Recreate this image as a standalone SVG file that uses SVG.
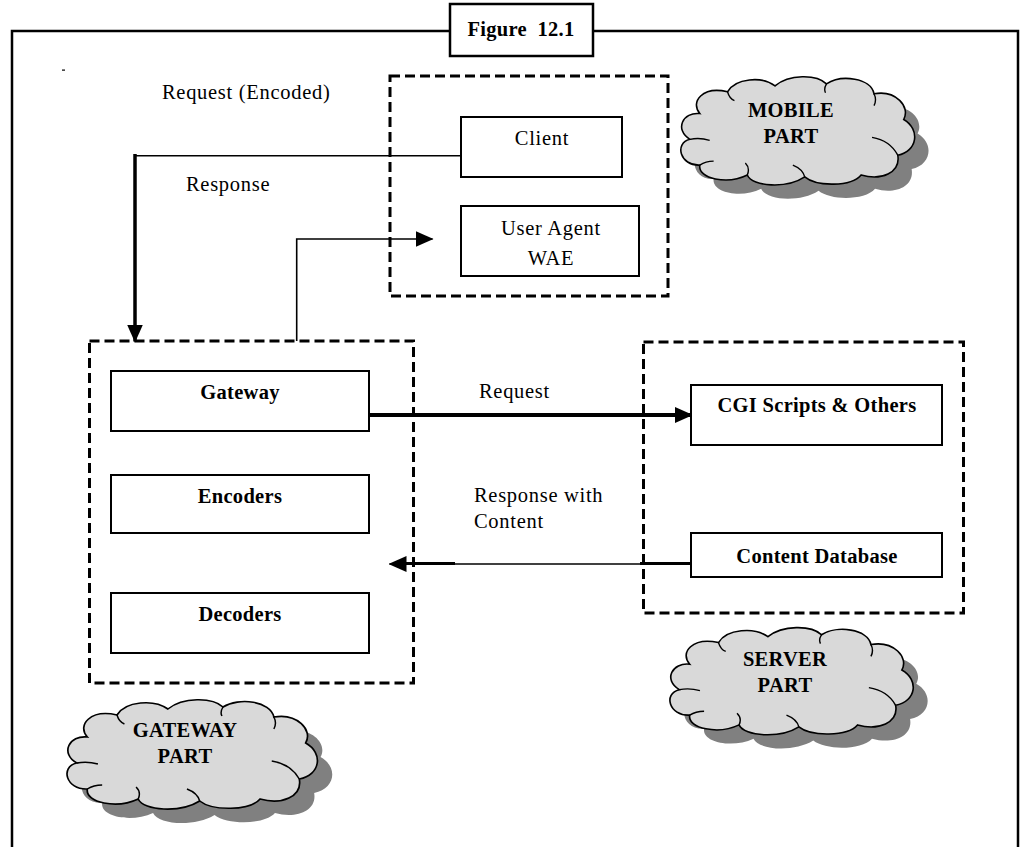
<svg xmlns="http://www.w3.org/2000/svg" width="1032" height="847" viewBox="0 0 1032 847">
<style>
  text { font-family: "Liberation Serif", "Times New Roman", serif; font-size: 20.5px; fill: #000; }
  .reg { letter-spacing: 0.7px; }
  .b { font-weight: bold; letter-spacing: 0.3px; }
  .mid { text-anchor: middle; }
  .box { fill: #fff; stroke: #000; stroke-width: 2; }
  .dash { fill: none; stroke: #000; stroke-width: 3; stroke-dasharray: 10 5; }
  .frame { fill: none; stroke: #000; stroke-width: 2.5; }
  .thin { fill: none; stroke: #000; stroke-width: 1.6; }
  .cloud { fill: #d9d9d9; stroke: #000; stroke-width: 1.6; }
  .shadow { fill: #808080; stroke: none; }
  .curl { fill: none; stroke: #000; stroke-width: 1.4; }
</style>
<defs>
  <marker id="arrow" markerUnits="userSpaceOnUse" markerWidth="18" markerHeight="16" refX="17" refY="8" orient="auto">
    <path d="M0,0 L18,8 L0,16 Z" fill="#000"/>
  </marker>
  <path id="cloudShape" d="M22,42 C12,30 25,14 50,20 C58,6 85,4 98,14 C112,2 140,2 150,12 C165,2 195,6 198,22 C220,18 235,35 228,48 C245,58 242,80 222,84 C225,102 205,110 185,104 C175,116 140,116 128,106 C110,118 75,116 70,104 C50,114 20,108 22,94 C2,95 -4,72 12,68 C-4,58 5,40 22,42 Z"/>
  <g id="cloud">
    <use href="#cloudShape" class="shadow" transform="translate(14,14)"/>
    <use href="#cloudShape" class="cloud"/>
    <path class="curl" d="M12,68 q10,-2 20,1 M222,84 q-8,-15 -26,-18 M50,20 q2,7 7,9 M198,22 q3,6 0,12 M128,106 q-2,-8 -12,-12 M70,104 q3,-7 -2,-12 M150,12 q-3,5 -1,9 M22,94 q6,-4 14,-4"/>
  </g>
</defs>

<g id="frame">
  <path class="frame" d="M450,31 H12 V847 M593,31 H1018 V847"/>
  <rect class="frame" x="450" y="4" width="143" height="52" fill="#fff"/>
  <text class="b mid" x="521" y="36" style="word-spacing:5px">Figure 12.1</text>
  <rect x="62" y="69.5" width="3" height="1.2" fill="#000"/>
</g>

<g id="connectors">
  <path class="thin" d="M461,155.7 H135"/>
  <path fill="none" stroke="#000" stroke-width="3.5" d="M135,154 V341.5" marker-end="url(#arrow)"/>
  <path class="thin" d="M296.7,341 V239 H432.5" marker-end="url(#arrow)"/>
  <path fill="none" stroke="#000" stroke-width="4" d="M368.7,415 H692" marker-end="url(#arrow)"/>
  <path class="thin" d="M691,564 H389.5" marker-end="url(#arrow)"/>
  <path fill="none" stroke="#000" stroke-width="3" d="M691,563.5 H640 M455,563.5 H400"/>
</g>

<g id="labels">
  <text class="reg" x="162" y="99">Request (Encoded)</text>
  <text class="reg" x="186" y="191">Response</text>
  <text class="reg" x="479" y="398">Request</text>
  <text class="reg" x="474" y="502">Response with</text>
  <text class="reg" x="474" y="528">Content</text>
</g>

<g id="mobile-part">
  <rect class="dash" x="390" y="76" width="278" height="220"/>
  <g id="client">
    <rect class="box" x="461" y="117" width="161" height="60"/>
    <text class="reg mid" x="542" y="145">Client</text>
  </g>
  <g id="user-agent">
    <rect class="box" x="461" y="206" width="178" height="70"/>
    <text class="reg mid" x="551" y="235">User Agent</text>
    <text class="reg mid" x="551" y="265">WAE</text>
  </g>
</g>

<g id="gateway-part">
  <rect class="dash" x="89.5" y="341" width="324" height="342"/>
  <g id="gateway">
    <rect class="box" x="111" y="371" width="258" height="60"/>
    <text class="b mid" x="240" y="399">Gateway</text>
  </g>
  <g id="encoders">
    <rect class="box" x="111" y="475" width="258" height="58"/>
    <text class="b mid" x="240" y="503">Encoders</text>
  </g>
  <g id="decoders">
    <rect class="box" x="111" y="593" width="258" height="60"/>
    <text class="b mid" x="240" y="621">Decoders</text>
  </g>
</g>

<g id="server-part">
  <rect class="dash" x="643.5" y="342" width="320" height="271"/>
  <g id="cgi">
    <rect class="box" x="691" y="385" width="251" height="60"/>
    <text class="b mid" x="817" y="412">CGI Scripts &amp; Others</text>
  </g>
  <g id="content-db">
    <rect class="box" x="691" y="533" width="251" height="44"/>
    <text class="b mid" x="817" y="563">Content Database</text>
  </g>
</g>

<g id="mobile-cloud">
  <use href="#cloud" transform="translate(678,72) scale(0.99,0.99)"/>
  <text class="b mid" x="791" y="117">MOBILE</text>
  <text class="b mid" x="791" y="143">PART</text>
</g>

<g id="server-cloud">
  <use href="#cloud" transform="translate(667,623) scale(1.03,0.98)"/>
  <text class="b mid" x="785" y="666">SERVER</text>
  <text class="b mid" x="785" y="692">PART</text>
</g>

<g id="gateway-cloud">
  <use href="#cloud" transform="translate(64,695) scale(1.06,1.0)"/>
  <text class="b mid" x="185" y="737">GATEWAY</text>
  <text class="b mid" x="185" y="763">PART</text>
</g>
</svg>
